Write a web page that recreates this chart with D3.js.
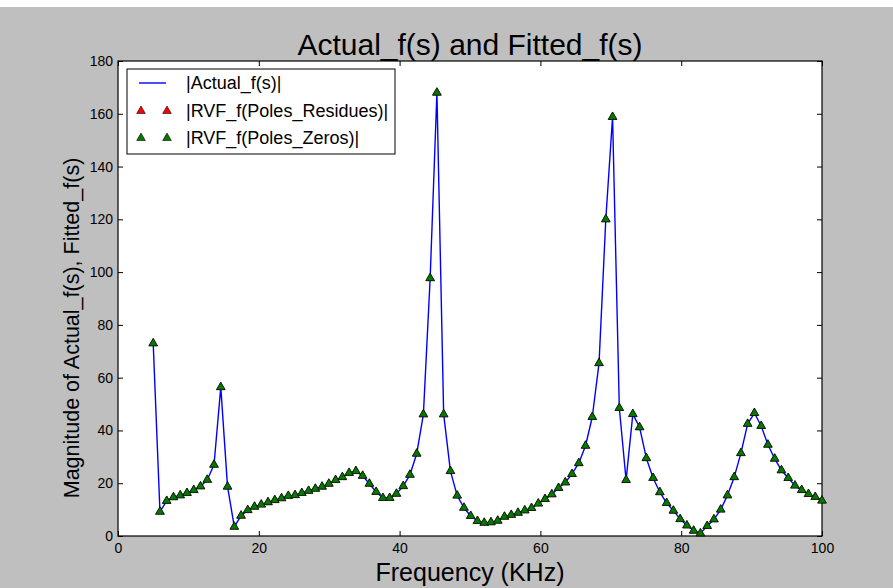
<!DOCTYPE html>
<html>
<head>
<meta charset="utf-8">
<script src="https://cdn.jsdelivr.net/npm/d3@7"></script>
<style>
  html, body { margin: 0; padding: 0; background: #bfbfbf; }
  svg { display: block; }
  text { font-family: "Liberation Sans", Arial, Helvetica, sans-serif; fill: #000; }
</style>
</head>
<body>
<svg id="chart" width="893" height="588"></svg>
<script>
// Frequency samples (KHz)
const frequency = [
  5.00, 5.96, 6.92, 7.88, 8.84, 9.80, 10.76, 11.72, 12.68, 13.64,
  14.60, 15.56, 16.52, 17.48, 18.43, 19.39, 20.35, 21.31, 22.27, 23.23,
  24.19, 25.15, 26.11, 27.07, 28.03, 28.99, 29.95, 30.91, 31.87, 32.83,
  33.79, 34.75, 35.71, 36.67, 37.63, 38.59, 39.55, 40.51, 41.47, 42.43,
  43.38, 44.34, 45.30, 46.26, 47.22, 48.18, 49.14, 50.10, 51.06, 52.02,
  52.98, 53.94, 54.90, 55.86, 56.82, 57.78, 58.74, 59.70, 60.66, 61.62,
  62.58, 63.54, 64.49, 65.45, 66.41, 67.37, 68.33, 69.29, 70.25, 71.21,
  72.17, 73.13, 74.09, 75.05, 76.01, 76.97, 77.93, 78.89, 79.85, 80.81,
  81.77, 82.73, 83.69, 84.65, 85.61, 86.57, 87.53, 88.48, 89.44, 90.40,
  91.36, 92.32, 93.28, 94.24, 95.20, 96.16, 97.12, 98.08, 99.04, 100.00
];

// |Actual_f(s)|
const actualMag = [
  73.0, 9.2, 13.3, 14.7, 15.4, 16.3, 17.4, 18.8, 21.3, 27.0,
  56.4, 18.7, 3.5, 7.7, 9.8, 11.1, 11.9, 12.8, 13.6, 14.3,
  15.2, 15.5, 16.3, 17.1, 17.9, 18.7, 19.8, 21.2, 22.3, 23.9,
  24.6, 22.8, 19.8, 16.7, 14.4, 14.4, 16.0, 18.9, 23.2, 31.2,
  46.1, 97.7, 168.0, 46.1, 24.6, 15.3, 10.7, 7.6, 5.7, 5.0,
  5.2, 5.8, 7.3, 8.0, 8.8, 9.7, 10.6, 12.3, 14.0, 15.8,
  18.2, 20.3, 23.5, 27.6, 34.2, 45.1, 65.5, 120.0, 158.8, 48.5,
  21.2, 46.2, 41.2, 29.5, 22.0, 16.6, 12.5, 9.6, 6.4, 4.0,
  2.0, 1.0, 3.8, 6.3, 10.0, 15.4, 22.3, 31.4, 42.5, 46.6,
  41.7, 34.6, 29.3, 24.9, 22.0, 19.1, 17.4, 15.9, 14.8, 13.4
];

// |RVF_f(Poles_Residues)| and |RVF_f(Poles_Zeros)| coincide with the actual response
const rvfResidues = actualMag.slice();
const rvfZeros = actualMag.slice();

const xTicks = [0, 20, 40, 60, 80, 100];
const yTicks = [0, 20, 40, 60, 80, 100, 120, 140, 160, 180];

const titleText = "Actual_f(s) and Fitted_f(s)";
const xLabelText = "Frequency (KHz)";
const yLabelText = "Magnitude of Actual_f(s), Fitted_f(s)";
const legendLabels = ["|Actual_f(s)|", "|RVF_f(Poles_Residues)|", "|RVF_f(Poles_Zeros)|"];

const svg = d3.select("#chart");
const W = 893, H = 588;
const plot = { left: 118, right: 822, top: 61, bottom: 536 };

svg.append("rect").attr("x", 0).attr("y", 0).attr("width", W).attr("height", H).attr("fill", "#bfbfbf");
svg.append("rect").attr("x", 0).attr("y", 0).attr("width", W).attr("height", 7).attr("fill", "#ffffff");

const x = d3.scaleLinear().domain([0, 100]).range([plot.left, plot.right]);
const y = d3.scaleLinear().domain([0, 180]).range([plot.bottom, plot.top]);

// plot background
svg.append("rect")
  .attr("x", plot.left).attr("y", plot.top)
  .attr("width", plot.right - plot.left).attr("height", plot.bottom - plot.top)
  .attr("fill", "#ffffff");

// axes with inward ticks on all four sides
const tickLen = 5;
function styleAxis(g) {
  g.select(".domain").remove();
  g.selectAll(".tick line").attr("stroke", "#000").attr("stroke-width", 1);
  g.selectAll(".tick text").style("font-size", "14px").attr("fill", "#000");
}
svg.append("g").attr("transform", `translate(0,${plot.bottom})`)
  .call(d3.axisBottom(x).tickValues(xTicks).tickSize(-tickLen).tickPadding(7).tickFormat(d3.format("d")))
  .call(styleAxis);
svg.append("g").attr("transform", `translate(0,${plot.top})`)
  .call(d3.axisTop(x).tickValues(xTicks).tickSize(-tickLen).tickFormat(""))
  .call(styleAxis);
svg.append("g").attr("transform", `translate(${plot.left},0)`)
  .call(d3.axisLeft(y).tickValues(yTicks).tickSize(-tickLen).tickPadding(5).tickFormat(d3.format("d")))
  .call(styleAxis);
svg.append("g").attr("transform", `translate(${plot.right},0)`)
  .call(d3.axisRight(y).tickValues(yTicks).tickSize(-tickLen).tickFormat(""))
  .call(styleAxis);

// frame
svg.append("rect")
  .attr("x", plot.left).attr("y", plot.top)
  .attr("width", plot.right - plot.left).attr("height", plot.bottom - plot.top)
  .attr("fill", "none").attr("stroke", "#000").attr("stroke-width", 1.2);

// actual response line
const line = d3.line().x((d, i) => x(frequency[i])).y(d => y(d));
svg.append("path").datum(actualMag)
  .attr("d", line)
  .attr("fill", "none").attr("stroke", "#0000ff").attr("stroke-width", 1.4)
  .attr("stroke-linejoin", "round");

// fitted markers
const tri = d3.symbol().type(d3.symbolTriangle).size(32);
function markers(values, color) {
  svg.append("g").selectAll("path").data(values).join("path")
    .attr("d", tri)
    .attr("transform", (d, i) => `translate(${x(frequency[i])},${y(d)})`)
    .attr("fill", color).attr("stroke", "#000").attr("stroke-width", 0.6);
}
markers(rvfResidues, "#ff0000");
markers(rvfZeros, "#007a00");

// title and axis labels
svg.append("text").attr("x", (plot.left + plot.right) / 2).attr("y", 55)
  .attr("text-anchor", "middle").style("font-size", "30px").text(titleText);
svg.append("text").attr("x", (plot.left + plot.right) / 2).attr("y", 581)
  .attr("text-anchor", "middle").style("font-size", "25px").text(xLabelText);
svg.append("text").attr("transform", "translate(79,328) rotate(-90)")
  .attr("text-anchor", "middle").style("font-size", "21.5px").text(yLabelText);

// legend
const lg = svg.append("g");
lg.append("rect").attr("x", 127).attr("y", 69).attr("width", 268).attr("height", 85)
  .attr("fill", "#ffffff").attr("stroke", "#000").attr("stroke-width", 1);
const rowY = [83, 111, 138];
lg.append("line").attr("x1", 139).attr("x2", 166).attr("y1", rowY[0]).attr("y2", rowY[0])
  .attr("stroke", "#0000ff").attr("stroke-width", 1.4);
[["#ff0000", rowY[1]], ["#007a00", rowY[2]]].forEach(([c, yy]) => {
  [141, 167].forEach(xx => {
    lg.append("path").attr("d", tri).attr("transform", `translate(${xx},${yy})`)
      .attr("fill", c).attr("stroke", "#000").attr("stroke-width", 0.6);
  });
});
legendLabels.forEach((t, i) => {
  lg.append("text").attr("x", 186).attr("y", rowY[i]).attr("dy", "0.35em")
    .style("font-size", "18px").text(t);
});
</script>
</body>
</html>
